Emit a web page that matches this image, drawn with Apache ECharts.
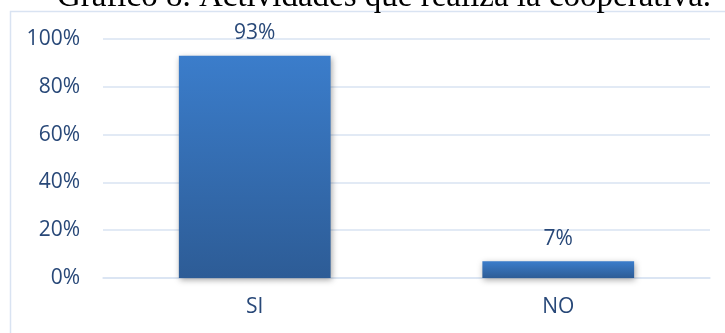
<!DOCTYPE html>
<html>
<head>
<meta charset="utf-8">
<script src="https://cdn.jsdelivr.net/npm/echarts@6/dist/echarts.min.js"></script>
<style>
  html, body { margin: 0; padding: 0; background: #ffffff; }
  #chart { width: 725px; height: 333px; }
</style>
</head>
<body>
<div id="chart"></div>
<script>
// Answers to the survey question
const categories = ['SI', 'NO'];
const percentValues = [93, 7];
const yTicks = [0, 20, 40, 60, 80, 100];

const titleText = 'Gráfico 8. Actividades que realiza la cooperativa.';
const textBlue = '#284878';
const gridBlue = '#d9e3f2';

const chart = echarts.init(document.getElementById('chart'), null, { renderer: 'canvas' });

chart.setOption({
  backgroundColor: '#ffffff',
  animation: false,
  graphic: [
    {
      type: 'rect',
      shape: { x: 10.5, y: 11.5, width: 760, height: 400 },
      style: { fill: 'none', stroke: gridBlue, lineWidth: 1.5 },
      z: 0
    },
    {
      type: 'text',
      x: 384,
      y: -3,
      style: {
        text: titleText,
        font: '33px "Liberation Serif", "Times New Roman", serif',
        fill: '#000000',
        textAlign: 'center',
        textVerticalAlign: 'middle'
      },
      z: 10
    }
  ],
  grid: { left: 103, right: 15, top: 39, bottom: 55 },
  xAxis: {
    type: 'category',
    data: categories,
    axisLine: { show: true, lineStyle: { color: gridBlue, width: 1.5 } },
    axisTick: { show: false },
    axisLabel: {
      color: textBlue,
      fontFamily: '"Open Sans", sans-serif',
      fontSize: 21,
      margin: 19
    }
  },
  yAxis: {
    type: 'value',
    min: yTicks[0],
    max: yTicks[yTicks.length - 1],
    interval: yTicks[1] - yTicks[0],
    axisLine: { show: false },
    axisTick: { show: false },
    splitLine: { lineStyle: { color: gridBlue, width: 1.5 } },
    axisLabel: {
      color: textBlue,
      fontFamily: '"Open Sans", sans-serif',
      fontSize: 21,
      margin: 23,
      formatter: v => v + '%'
    }
  },
  series: [{
    type: 'bar',
    data: percentValues,
    barWidth: '50%',
    itemStyle: {
      color: new echarts.graphic.LinearGradient(0, 0, 0, 1, [
        { offset: 0, color: '#3b7dcb' },
        { offset: 1, color: '#2d5c96' }
      ]),
      shadowColor: 'rgba(0,0,0,0.35)',
      shadowBlur: 6,
      shadowOffsetX: 1,
      shadowOffsetY: 2
    },
    label: {
      show: true,
      position: 'top',
      distance: 12,
      color: textBlue,
      fontFamily: '"Open Sans", sans-serif',
      fontSize: 21,
      formatter: p => p.value + '%'
    }
  }]
});
</script>
</body>
</html>
